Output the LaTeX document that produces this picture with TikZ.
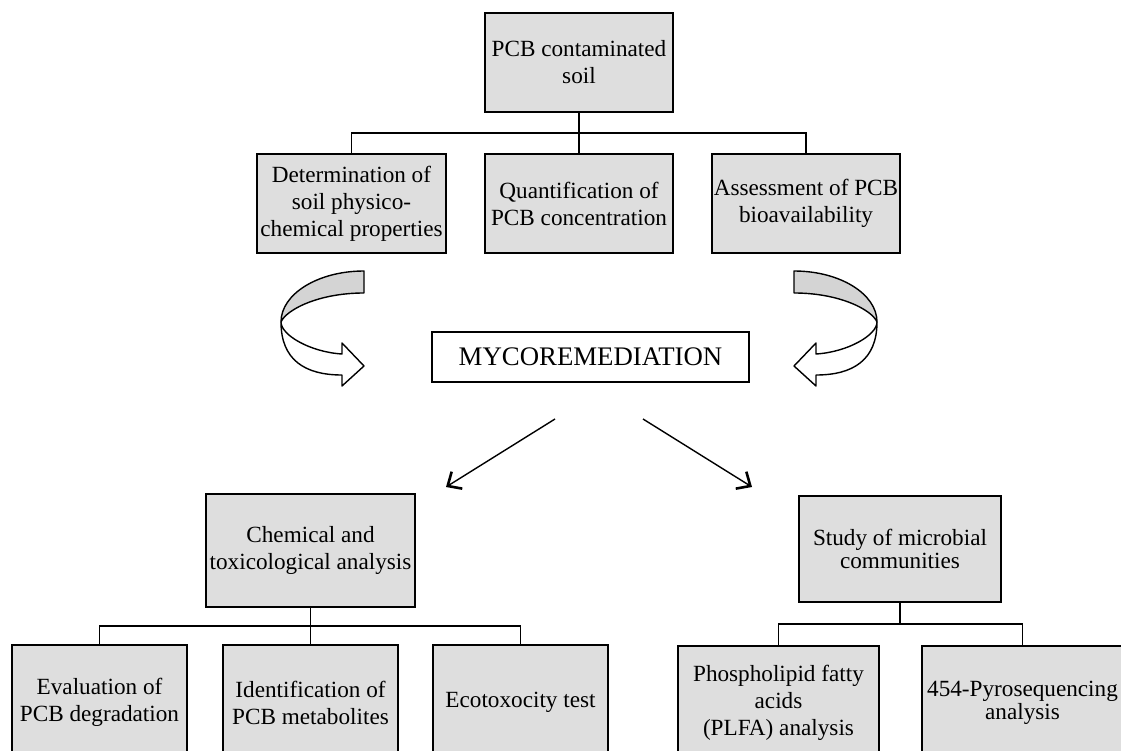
\documentclass[tikz,border=0pt]{standalone}
\usepackage{fontspec}
\setmainfont{Liberation Serif}
\usetikzlibrary{arrows.meta}
\definecolor{boxgray}{RGB}{222,222,222}
\definecolor{bandgray}{RGB}{212,212,212}
\tikzset{
  box/.style={draw, line width=1.7pt, fill=boxgray, inner sep=0pt, align=center, font={\fontsize{23.2}{27}\selectfont}},
  tightbox/.style={box, font={\fontsize{23.2}{22.5}\selectfont}},
  link/.style={line width=1.6pt},
  flow/.style={line width=1.4pt, -{Straight Barb[length=11pt,width=20pt,line width=2.6pt]}},
  ribbon/.style={line width=1.4pt, line join=round},
}
\newcommand{\ribbonarrow}{%
  \filldraw[ribbon, fill=bandgray] (364,271) .. controls (318,271) and (281,294) .. (281,322)
     .. controls (286,310) and (318,293) .. (364,293) -- cycle;
  \filldraw[ribbon, fill=white] (281,322) .. controls (281,335) and (310,352) .. (342,354)
     -- (342,343) -- (364,366) -- (342,386) -- (342,375)
     .. controls (305,375) and (281,360) .. (281,322) -- cycle;
}
\begin{document}
\begin{tikzpicture}[x=1pt,y=-1pt]
\useasboundingbox (0,0) rectangle (1121,751);
\clip (0,0) rectangle (1121,751);
\fill[white] (0,0) rectangle (1121,751);

% top part
\node[box, minimum width=188pt, minimum height=99pt] (soil) at (579,62.5) {PCB contaminated\\soil};
\node[box, minimum width=189pt, minimum height=99pt] (phys) at (351.5,203.5) {Determination of\\soil physico-\\chemical properties};
\node[box, minimum width=188pt, minimum height=99pt] (quant) at (579,203.5) {Quantification of\\PCB concentration};
\node[box, minimum width=188pt, minimum height=99pt] (bioav) at (806,203.5) {Assessment of PCB\\bioavailability};

\coordinate (bus1) at (579,133);
\draw[link] (soil.south) -- (bus1);
\draw[link] (phys.north) -- (phys.north |- bus1) -- (bioav.north |- bus1) -- (bioav.north);
\draw[link] (bus1) -- (quant.north);

% curved arrows
\ribbonarrow
\begin{scope}[xshift=1158pt, xscale=-1]
\ribbonarrow
\end{scope}

% mycoremediation
\node[draw, line width=1.7pt, fill=white, inner sep=0pt, minimum width=317pt, minimum height=50pt,
      font={\fontsize{26.8}{30}\selectfont}] (myco) at (590.5,357) {MYCOREMEDIATION};

\coordinate (l0) at (555,419);
\coordinate (l1) at (446,487);
\coordinate (r0) at (643,419);
\coordinate (r1) at (752,487);
\draw[flow] (l0) -- (l1);
\draw[flow] (r0) -- (r1);

% lower left
\node[box, minimum width=209pt, minimum height=113pt] (chem) at (310.5,550.5) {Chemical and\\toxicological analysis};
\node[box, minimum width=175pt, minimum height=115pt] (deg) at (99.5,702.5) {Evaluation of\\PCB degradation};
\node[box, minimum width=175pt, minimum height=115pt] (metab) at (310.5,702.5) {Identification of\\PCB metabolites};
\node[box, minimum width=175pt, minimum height=115pt] (ecotox) at (520.5,702.5) {Ecotoxocity test};
\coordinate (bus2) at (310.5,626);
\draw[link] (chem.south) -- (bus2) -- (metab.north);
\draw[link] (deg.north) -- (deg.north |- bus2) -- (ecotox.north |- bus2) -- (ecotox.north);

% lower right
\node[tightbox, minimum width=202pt, minimum height=106pt] (micro) at (900,549) {Study of microbial\\communities};
\node[box, minimum width=201pt, minimum height=114pt] (plfa) at (778.5,703) {Phospholipid fatty\\acids\\(PLFA) analysis};
\node[tightbox, minimum width=201pt, minimum height=114pt] (pyro) at (1022.5,703) {454-Pyrosequencing\\analysis};
\coordinate (bus3) at (900,624);
\draw[link] (micro.south) -- (bus3);
\draw[link] (plfa.north) -- (plfa.north |- bus3) -- (pyro.north |- bus3) -- (pyro.north);
\end{tikzpicture}
\end{document}
